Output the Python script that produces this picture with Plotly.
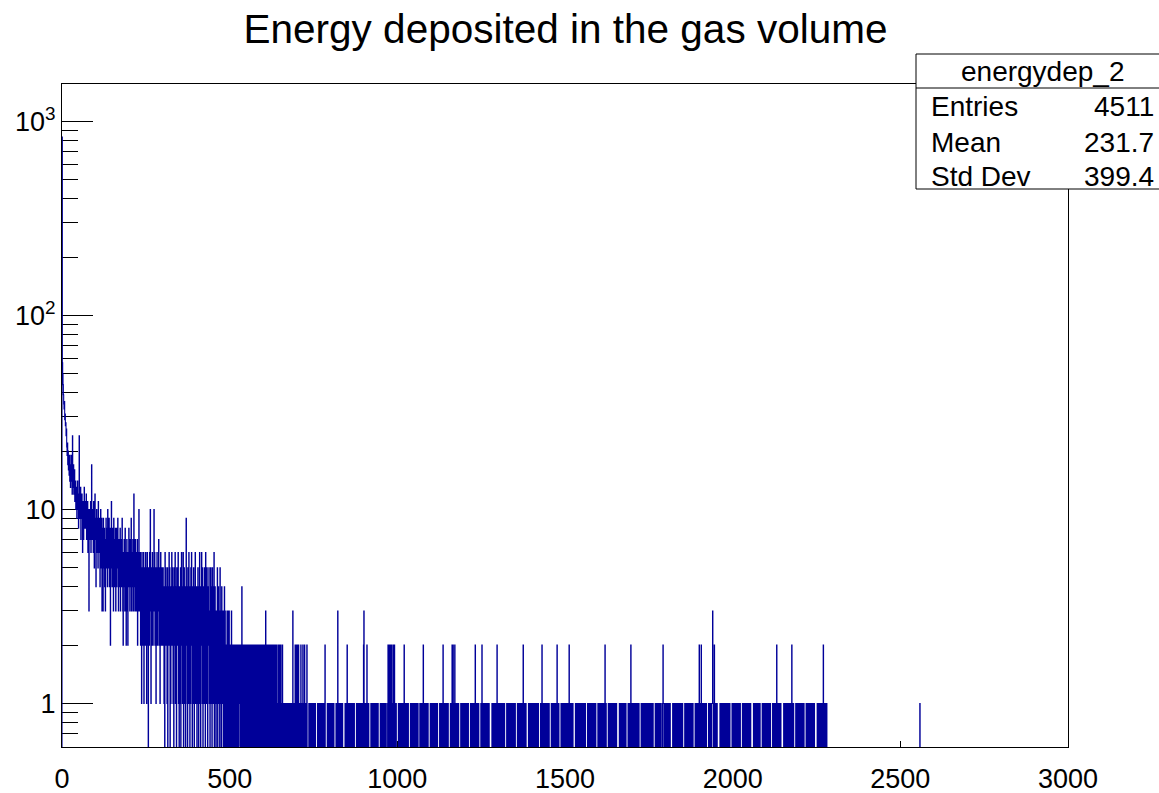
import numpy as np
import plotly.graph_objects as go

# ---------------- data ----------------
bin_low, bin_high, n_bins = 0, 3000, 3000

# bins 0..299 (one unit per bin)
head_counts = [
    830, 57, 50, 44, 39, 35, 33, 36, 29, 31,
    27, 28, 24, 26, 21, 19, 22, 17, 20, 16,
    18, 15, 19, 14, 17, 13, 16, 19, 14, 15,
    12, 24, 15, 13, 17, 12, 14, 16, 11, 13,
    14, 10, 12, 13, 9, 11, 14, 10, 12, 8,
    11, 24, 9, 12, 10, 13, 7, 11, 9, 12,
    10, 6, 9, 11, 7, 10, 13, 8, 9, 11,
    8, 10, 12, 7, 9, 8, 11, 6, 10, 9,
    3, 8, 10, 7, 9, 11, 6, 8, 17, 9,
    7, 10, 8, 6, 11, 9, 5, 8, 12, 7,
    9, 4, 8, 10, 6, 7, 9, 5, 11, 8,
    6, 9, 7, 4, 8, 10, 5, 7, 9, 3,
    8, 6, 3, 9, 7, 5, 8, 4, 6, 3,
    7, 9, 5, 6, 8, 4, 10, 6, 5, 7,
    9, 4, 6, 8, 2, 7, 5, 11, 6, 4,
    8, 5, 7, 3, 9, 6, 4, 7, 5, 8,
    3, 6, 8, 4, 7, 5, 9, 6, 3, 5,
    7, 4, 6, 8, 3, 5, 7, 4, 6, 9,
    5, 3, 2, 6, 4, 7, 5, 3, 8, 4,
    6, 2, 5, 7, 3, 4, 2, 6, 5, 8,
    4, 6, 3, 7, 5, 4, 9, 3, 6, 4,
    5, 7, 3, 6, 12, 4, 5, 3, 7, 4,
    6, 3, 5, 4, 7, 2, 5, 6, 3, 10,
    4, 5, 3, 6, 2, 5, 4, 1, 6, 3,
    5, 2, 4, 6, 1, 3, 5, 4, 2, 6,
    3, 5, 1, 4, 6, 2, 3, 0, 5, 4,
    2, 6, 3, 10, 4, 1, 5, 3, 2, 6,
    4, 2, 5, 3, 10, 4, 6, 2, 3, 5,
    1, 4, 3, 6, 2, 5, 3, 4, 7, 2,
    5, 3, 1, 4, 6, 2, 3, 5, 2, 4,
]

# bins 300..2299, one digit per bin, 100 bins per row
tail_start = 300
tail_rows = [
    "3524130625 4231502436 2503142625 3140523614 2053426130 4215036241 3602514302 9241053162 4031526204 3152042613",
    "2403153024 6130426315 0324153062 4153024351 3025143053 1436024310 3215034132 0512304213 2031403120 2130213031",
    "2012031202 1201210202 0210120121 2012004120 1201021201 2102012012 0120210201 1202101202 2010210120 1021020102",
    "1020120301 2010201021 0210120102 1020102010 2101020120 1020101201 0101010010 1010010101 0100101030 1010120201",
    "0201020110 1020101020 0102010100 2000001011 0110101101 1011010000 0010110101 1011011010 1101200000 0101101011",
    "1011010110 1000000101 1031011010 1101011000 0000101101 2011010110 1101011010 1100000010 1101011010 1101101002",
    "3011010112 0110100000 0101011010 1101101011 0110000001 1011010110 1101011000 0120201020 1020110201 0201101000",
    "0001011010 1101011010 2101101011 0110000001 1011010110 1101011011 0100000101 1011011200 1101011010 1100000010",
    "1101011010 1101101011 0000001101 1011012010 1101011010 1100000010 1102012010 1201101011 0110000001 1011010110",
    "1101011010 1100000010 1101011010 1120101101 0110000001 1021010110 1101011010 1101000000 0010110101 1011010200",
    "1101011010 1101101011 0000001101 1011010110 1101011010 1100000010 1101011010 1101120101 1011000000 0101101011",
    "0110101101 1011010110 1000000101 1201011010 1101101011 0110000001 1011010110 1101012010 1100000010 1101011010",
    "1101101011 0120101101 1011000000 0101101011 0110101101 1011010110 1000000101 1011011010 1101011010 1100000010",
    "1101011010 1101101012 0110000001 1011010110 1101011010 1101000000 0010110101 1011011010 1100000010 1101012010",
    "1101101011 0110101101 1000000101 1011010110 1101011010 1101101011 0110000001 1011010110 1101011000 0121101011",
    "0110101101 1011000000 0101101011 0110101101 1011010110 1000000101 1011011010 1101011010 1100000010 1101011010",
    "2011012010 1101011010 1100000010 1101101011 3110121010 1101000000 0010110101 1011011010 1101011010 1100000010",
    "1101011010 1101101011 0110000001 1011010110 1101011010 1101000000 0010110101 1011011010 1100000010 1101011010",
    "1101101011 0110000001 1011010110 1201011010 1101000000 0010110101 1011011010 1101012010 1100000010 1101011010",
    "1101101011 0110000001 1011010110 1101011010 1101000000 0010110101 1011011010 2101101011 1000000000 0000000000",
]
isolated_bins = [2558]
isolated_counts = [1]

x_ticks = [0, 500, 1000, 1500, 2000, 2500, 3000]
y_ticks = [1, 10, 100, 1000]
y_tick_text = ["1", "10", "10<sup>2</sup>", "10<sup>3</sup>"]
y_minor_ticks = [0.7, 0.8, 0.9,
                 2, 3, 4, 5, 6, 7, 8, 9,
                 20, 30, 40, 50, 60, 70, 80, 90,
                 200, 300, 400, 500, 600, 700, 800, 900]

title_text = "Energy deposited in the gas volume"
stats_name = "energydep_2"
stats_labels = ["Entries", "Mean", "Std Dev"]
stats_values = ["4511", "231.7", "399.4"]

# ---------------- build histogram outline ----------------
counts = np.zeros(n_bins)
counts[:len(head_counts)] = head_counts
tail = "".join(r.replace(" ", "") for r in tail_rows)
counts[tail_start:tail_start + len(tail)] = [int(c) for c in tail]
for b, c in zip(isolated_bins, isolated_counts):
    counts[b] = c

edges = np.linspace(bin_low, bin_high, n_bins + 1)
floor = 1e-3  # empty bins drop below the frame, as ROOT does on log scale
yv = np.where(counts > 0, counts, floor)
xs = np.concatenate([[edges[0]], edges[:-1], [edges[-1]]])
ys = np.concatenate([[floor], yv, [floor]])

FONT = "Liberation Sans, Arial, Helvetica, sans-serif"
BLUE = "#000099"

fig = go.Figure()
fig.add_trace(go.Scatter(
    x=xs, y=ys, mode="lines", line=dict(color=BLUE, width=1.1, shape="hv"),
    hoverinfo="skip", showlegend=False))

W, H = 1159, 793
L, R, T, B = 62, 1068, 84, 747

fig.update_layout(
    width=W, height=H,
    margin=dict(l=L, r=W - R, t=T, b=H - B, pad=0),
    paper_bgcolor="white", plot_bgcolor="white",
    font=dict(family=FONT, color="black"),
    title=dict(text=title_text, x=565.5 / W, xref="container", xanchor="center",
               y=1 - 29 / H, yref="container", yanchor="middle",
               font=dict(size=40.5, family=FONT, color="black")),
    showlegend=False,
)
fig.update_xaxes(
    range=[bin_low, bin_high], showgrid=False, zeroline=False, automargin=False,
    showline=True, mirror=True, linecolor="black", linewidth=1, layer="below traces",
    tickmode="array", tickvals=x_ticks, ticks="inside", ticklen=6,
    tickcolor="black", tickwidth=1, ticklabelstandoff=8,
    tickfont=dict(size=27, family=FONT, color="black"),
)
fig.update_yaxes(
    type="log", range=[-0.2242, 3.193], showgrid=False, zeroline=False, automargin=False,
    showline=True, mirror=True, linecolor="black", linewidth=1, layer="below traces",
    tickmode="array", tickvals=y_ticks, ticktext=y_tick_text,
    ticks="inside", ticklen=31, tickcolor="black", tickwidth=1,
    ticklabelstandoff=0,
    tickfont=dict(size=27, family=FONT, color="black"),
    minor=dict(tickmode="array", tickvals=y_minor_ticks, ticks="inside",
               ticklen=16, tickcolor="black", tickwidth=1, showgrid=False),
)

# ---------------- statistics box ----------------
def px(xp):
    return (xp - L) / (R - L)

def py(yp):
    return (B - yp) / (B - T)

box_l, box_r, box_t, box_b, box_div = 916, 1162, 54, 189, 88
fig.add_shape(type="rect", xref="paper", yref="paper",
              x0=px(box_l), x1=px(box_r), y0=py(box_b), y1=py(box_t),
              line=dict(color="black", width=1), fillcolor="white", layer="above")
fig.add_shape(type="line", xref="paper", yref="paper",
              x0=px(box_l), x1=px(box_r), y0=py(box_div), y1=py(box_div),
              line=dict(color="black", width=1), layer="above")

fig.add_annotation(text=stats_name, xref="paper", yref="paper",
                   x=px(1042), y=py(71), xanchor="center", yanchor="middle",
                   showarrow=False, font=dict(size=28, family=FONT, color="black"))
row_y = [106, 142, 177]
for lab, val, yy in zip(stats_labels, stats_values, row_y):
    fig.add_annotation(text=lab, xref="paper", yref="paper",
                       x=px(929), y=py(yy), xanchor="left", yanchor="middle",
                       showarrow=False, font=dict(size=28, family=FONT, color="black"))
    fig.add_annotation(text=val, xref="paper", yref="paper",
                       x=px(1156), y=py(yy), xanchor="right", yanchor="middle",
                       showarrow=False, font=dict(size=28, family=FONT, color="black"))

fig.write_html("out.html")
